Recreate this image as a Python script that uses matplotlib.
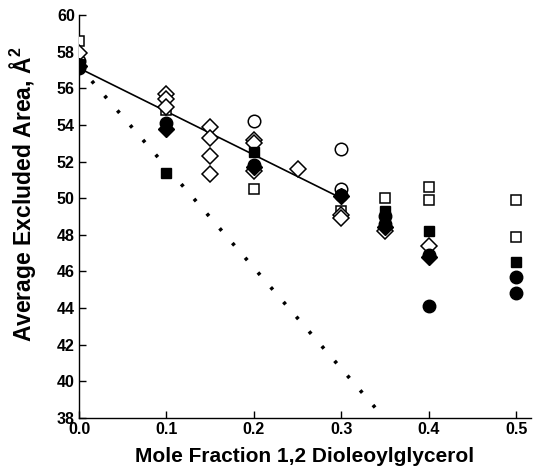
import matplotlib
matplotlib.use("Agg")
import matplotlib.pyplot as plt
import numpy as np

plt.rcParams['font.family'] = ['Liberation Sans', 'DejaVu Sans']
plt.rcParams['font.weight'] = 'bold'
plt.rcParams['mathtext.fontset'] = 'custom'
plt.rcParams['mathtext.bf'] = 'Liberation Sans:bold'
plt.rcParams['mathtext.rm'] = 'Liberation Sans:bold'

# data series (x = mole fraction, y = average excluded area)
open_sq_x = [0.0, 0.1, 0.2, 0.3, 0.35, 0.4, 0.4, 0.5, 0.5]
open_sq_y = [58.6, 54.8, 50.5, 49.3, 50.0, 50.6, 49.9, 49.9, 47.9]

open_ci_x = [0.0, 0.2, 0.3, 0.3]
open_ci_y = [57.5, 54.2, 52.7, 50.5]

open_di_x = [0.0, 0.1, 0.1, 0.1, 0.15, 0.15, 0.15, 0.15, 0.2, 0.2, 0.2, 0.25, 0.3, 0.3, 0.35, 0.4]
open_di_y = [57.9, 55.7, 55.4, 55.0, 53.9, 53.3, 52.3, 51.3, 53.2, 53.0, 51.5, 51.6, 49.1, 48.9, 48.2, 47.4]

fill_sq_x = [0.0, 0.1, 0.2, 0.35, 0.4, 0.5]
fill_sq_y = [57.3, 51.4, 52.5, 49.3, 48.2, 46.5]

fill_ci_x = [0.0, 0.1, 0.2, 0.3, 0.35, 0.35, 0.4, 0.4, 0.5, 0.5]
fill_ci_y = [57.1, 54.1, 51.8, 50.2, 49.0, 48.6, 46.9, 44.1, 45.7, 44.8]

fill_di_x = [0.0, 0.1, 0.2, 0.3, 0.35, 0.4]
fill_di_y = [57.2, 53.8, 51.7, 50.1, 48.4, 46.8]

# fitted lines
solid_x = [0.0, 0.3]
solid_y = [57.1, 50.0]
dotted_x = [0.0, 0.36]
dotted_y = [57.2, 37.4]

xticks = [0.0, 0.1, 0.2, 0.3, 0.4, 0.5]
yticks = list(range(38, 61, 2))

fig = plt.figure(figsize=(5.35, 4.74), dpi=100)
ax = fig.add_axes([0.1477, 0.1181, 0.8448, 0.8503])

ax.plot(solid_x, solid_y, color='black', lw=1.2, zorder=2)
ax.plot(dotted_x, dotted_y, color='black', lw=2.6, dashes=(0.9, 4.5), zorder=2)

ms = 9
ax.plot(open_sq_x, open_sq_y, 's', ms=ms - 1.3, mfc='white', mec='black', mew=1.1, ls='none', zorder=3)
ax.plot(open_ci_x, open_ci_y, 'o', ms=ms, mfc='white', mec='black', mew=1.1, ls='none', zorder=3)
ax.plot(open_di_x, open_di_y, 'D', ms=ms - 1, mfc='white', mec='black', mew=1.1, ls='none', zorder=3)
ax.plot(fill_sq_x, fill_sq_y, 's', ms=ms - 1.3, mfc='black', mec='black', ls='none', zorder=4)
ax.plot(fill_ci_x, fill_ci_y, 'o', ms=ms, mfc='black', mec='black', ls='none', zorder=4)
ax.plot(fill_di_x, fill_di_y, 'D', ms=ms - 1, mfc='black', mec='black', ls='none', zorder=4)

ax.set_xlim(0, 0.517)
ax.set_ylim(38, 60)
ax.set_xticks(xticks)
ax.set_xticklabels([f"{t:.1f}" for t in xticks])
ax.set_yticks(yticks)
ax.tick_params(direction='in', length=5, width=1, labelsize=11.5, pad=3)
for lab in ax.get_xticklabels() + ax.get_yticklabels():
    lab.set_fontweight('bold')
ax.spines['top'].set_visible(False)
ax.spines['right'].set_visible(False)
for s in ['left', 'bottom']:
    ax.spines[s].set_linewidth(1.0)

ax.set_xlabel('Mole Fraction 1,2 Dioleoylglycerol', fontsize=15, fontweight='bold', labelpad=7)
ax.set_ylabel(r'Average Excluded Area, Å$^{\mathbf{2}}$', fontsize=16.5, fontweight='bold')
ax.yaxis.set_label_coords(-0.09, 0.556)

fig.savefig('out.png', dpi=100)
